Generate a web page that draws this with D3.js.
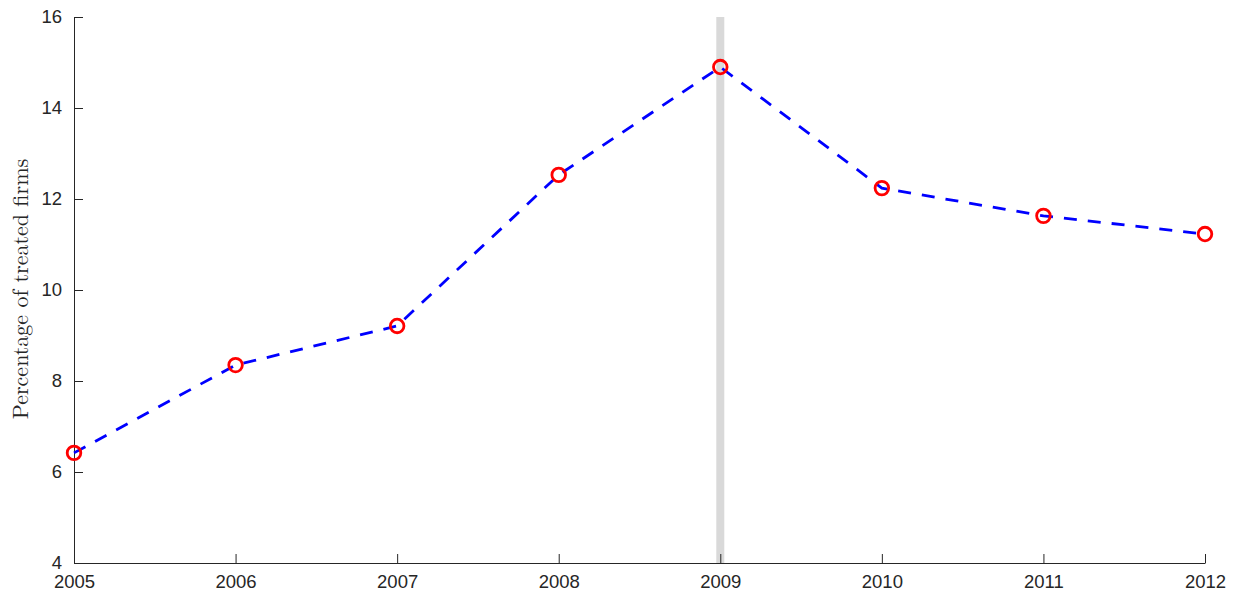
<!DOCTYPE html>
<html>
<head>
<meta charset="utf-8">
<script src="https://cdn.jsdelivr.net/npm/d3@7"></script>
<style>
  html, body { margin: 0; padding: 0; background: #fff; }
  svg { display: block; }
</style>
</head>
<body>
<svg id="chart" width="1239" height="596"></svg>
<script>
// Share of treated firms per year
const years = [2005, 2006, 2007, 2008, 2009, 2010, 2011, 2012];
const percentTreated = [6.42, 8.35, 9.21, 12.53, 14.90, 12.24, 11.63, 11.23];
const yTicks = [4, 6, 8, 10, 12, 14, 16];
const eventYear = 2009;

const svg = d3.select("#chart");
const margin = { left: 74, right: 34, top: 17, bottom: 33 };
const W = 1239, H = 596;

const x = d3.scaleLinear().domain([2005, 2012]).range([margin.left, W - margin.right]);
const y = d3.scaleLinear().domain([4, 16]).range([H - margin.bottom, margin.top]);

const axisColor = "#262626";

// Vertical marker at the event year
svg.append("line")
  .attr("x1", x(eventYear)).attr("x2", x(eventYear))
  .attr("y1", y(16)).attr("y2", y(4))
  .attr("stroke", "#d9d9d9").attr("stroke-width", 8);

// Axes (ticks point inward)
const xAxis = d3.axisBottom(x).tickValues(years).tickFormat(d3.format("d")).tickSizeInner(-9).tickSizeOuter(0).tickPadding(12);
const yAxis = d3.axisLeft(y).tickValues(yTicks).tickSizeInner(-9).tickSizeOuter(0).tickPadding(12);

const gx = svg.append("g").attr("transform", `translate(0,${y(4)})`).call(xAxis);
const gy = svg.append("g").attr("transform", `translate(${x(2005)},0)`).call(yAxis);

[gx, gy].forEach(g => {
  g.select(".domain").attr("stroke", axisColor).attr("stroke-width", 1);
  g.selectAll(".tick line").attr("stroke", axisColor).attr("stroke-width", 1);
  g.selectAll(".tick text")
    .attr("fill", axisColor)
    .style("font-family", "'Liberation Sans', Arial, sans-serif")
    .style("font-size", "18.5px");
});
gx.selectAll(".tick text").attr("dy", "0.68em");

// Y-axis title
svg.append("text")
  .attr("transform", `translate(28,${(y(4) + y(16)) / 2 - 1}) rotate(-90)`)
  .attr("text-anchor", "middle")
  .style("font-family", "'Latin Modern Roman', 'Liberation Serif', 'DejaVu Serif', serif")
  .style("font-size", "22px")
  .attr("fill", "#262626")
  .text("Percentage of treated firms");

// Dashed series line
const data = years.map((yr, i) => ({ year: yr, value: percentTreated[i] }));
svg.append("path")
  .datum(data)
  .attr("fill", "none")
  .attr("stroke", "#0000ff")
  .attr("stroke-width", 2.8)
  .attr("stroke-dasharray", "13,11")
  .attr("d", d3.line().x(d => x(d.year)).y(d => y(d.value)));

// Circle markers
svg.append("g").selectAll("circle")
  .data(data)
  .join("circle")
  .attr("cx", d => x(d.year))
  .attr("cy", d => y(d.value))
  .attr("r", 6.8)
  .attr("fill", "none")
  .attr("stroke", "#ff0000")
  .attr("stroke-width", 2.8);
</script>
</body>
</html>
